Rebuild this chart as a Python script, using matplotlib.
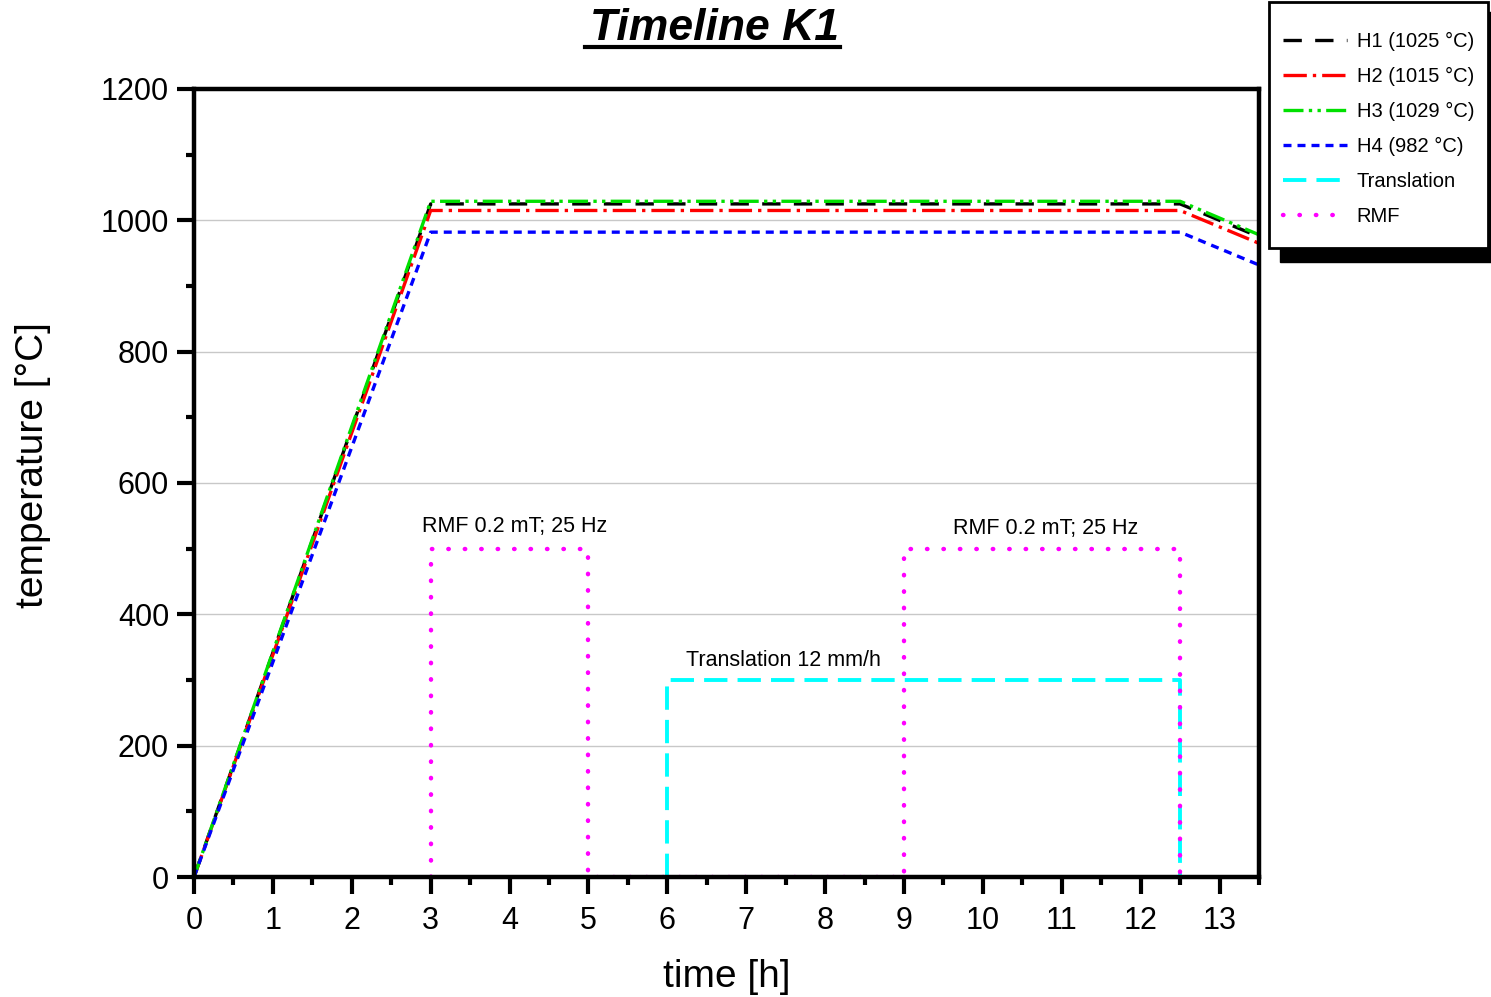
import matplotlib
matplotlib.use('Agg')
import matplotlib.pyplot as plt
from matplotlib.lines import Line2D
from matplotlib.patches import Rectangle
from matplotlib.ticker import MultipleLocator

plt.rcParams['font.family'] = ['Liberation Sans', 'DejaVu Sans']

# heating programme of the four heaters (time in h, temperature in degC)
heat_time = [0, 3, 12.5, 13.5]
h1 = [0, 1025, 1025, 975]
h2 = [0, 1015, 1015, 965]
h3 = [0, 1029, 1029, 978]
h4 = [0, 982, 982, 932]

# translation on/off (plotted as level 300)
trans_time = [6, 6, 12.5, 12.5]
trans_val = [0, 300, 300, 0]

# RMF on/off (plotted as level 500)
rmf_time = [3, 3, 5, 5, 9, 9, 12.5, 12.5]
rmf_val = [0, 500, 500, 0, 0, 500, 500, 0]

labels = ['H1 (1025 °C)', 'H2 (1015 °C)', 'H3 (1029 °C)', 'H4 (982 °C)',
          'Translation', 'RMF']

W, H = 1491, 997
fig = plt.figure(figsize=(W / 100, H / 100), dpi=100)
ax = fig.add_axes([194 / W, 1 - 877 / H, (1259 - 194) / W, (877 - 89) / H])

lw = 2.4
ax.plot(heat_time, h1, color='black', lw=lw, dashes=(5.5, 4), label=labels[0])
ax.plot(heat_time, h2, color='red', lw=lw, dashes=(7, 1.8, 1, 1.8), label=labels[1])
ax.plot(heat_time, h3, color='#00e000', lw=lw, dashes=(6, 1.6, 1, 1.6, 1, 1.6), label=labels[2])
ax.plot(heat_time, h4, color='blue', lw=lw, dashes=(2.4, 1.8), label=labels[3])
ax.plot(trans_time, trans_val, color='cyan', lw=lw + 0.4, dashes=(6, 2.6), label=labels[4])
ax.plot(rmf_time, rmf_val, color='magenta', lw=3.2, dashes=(0.1, 3.6),
        dash_capstyle='round', label=labels[5])

ax.text(4.07, 533, 'RMF 0.2 mT; 25 Hz', ha='center', va='center', fontsize=15.5)
ax.text(10.8, 530, 'RMF 0.2 mT; 25 Hz', ha='center', va='center', fontsize=15.5)
ax.text(7.47, 329, 'Translation 12 mm/h', ha='center', va='center', fontsize=15.5)

ax.set_xlim(0, 13.5)
ax.set_ylim(0, 1200)
ax.xaxis.set_major_locator(MultipleLocator(1))
ax.xaxis.set_minor_locator(MultipleLocator(0.5))
ax.yaxis.set_major_locator(MultipleLocator(200))
ax.yaxis.set_minor_locator(MultipleLocator(100))
ax.tick_params(which='major', direction='out', length=12, width=3, labelsize=22, pad=6)
ax.tick_params(axis='x', which='major', pad=9)
ax.tick_params(which='minor', direction='out', length=6, width=3)
ax.grid(axis='y', color='#c8c8c8', lw=1)
ax.set_axisbelow(True)
for s in ax.spines.values():
    s.set_linewidth(3.2)

ax.set_xlabel('time [h]', fontsize=28)
ax.set_ylabel('temperature [°C]', fontsize=28)
ax.xaxis.set_label_coords((727 - 194) / 1065, -(977 - 877) / 788)
ax.yaxis.set_label_coords(-(194 - 33) / 1065, (877 - 465) / 788)
ax.xaxis.label.set_va('center')
ax.yaxis.label.set_va('center')

fig.text(714 / W, 1 - 28 / H, 'Timeline K1', ha='center', va='center',
         fontsize=32, fontweight='bold', fontstyle='italic')
fig.add_artist(Line2D([585 / W, 840 / W], [1 - 47 / H, 1 - 47 / H],
                      color='black', lw=3, transform=fig.transFigure))

# legend box with black drop shadow
fig.add_artist(Rectangle((1280 / W, 1 - 262 / H), 212 / W, 250 / H,
                         transform=fig.transFigure, color='black', zorder=1))
fig.add_artist(Rectangle((1269 / W, 1 - 248 / H), 219 / W, 246 / H,
                         transform=fig.transFigure, facecolor='white',
                         edgecolor='black', lw=2, zorder=2))

handles, _ = ax.get_legend_handles_labels()
leg = fig.legend(handles, labels, loc='upper left',
                 bbox_to_anchor=(1283 / W, 1 - 32 / H),
                 bbox_transform=fig.transFigure, fontsize=14.5, handlelength=3.2,
                 handletextpad=0.45, labelspacing=0.79, borderpad=0,
                 frameon=False, borderaxespad=0)
leg.set_zorder(10)

fig.savefig('out.png', dpi=100)
